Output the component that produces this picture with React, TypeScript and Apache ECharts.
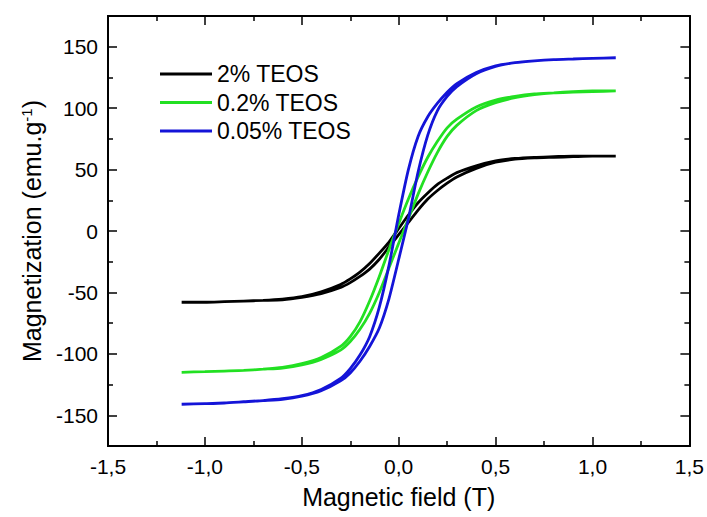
import React, { useEffect, useRef } from "react";
import * as echarts from "echarts";

// Field values (T) at which the branches were read
const fields = [-1.12, -1.0, -0.9, -0.8, -0.7, -0.6, -0.5, -0.4, -0.3, -0.25, -0.2, -0.15, -0.1, -0.05, 0, 0.05, 0.1, 0.15, 0.2, 0.25, 0.3, 0.4, 0.5, 0.6, 0.7, 0.8, 0.9, 1.0, 1.12];

// 2% TEOS
const blackUpper = [-58, -58, -57.5, -57, -56.5, -55.5, -53.5, -49.5, -43.5, -39, -33.5, -26.5, -18, -9, 2, 13, 23, 31, 38, 43, 47.5, 53, 57, 59, 60, 60.5, 61, 61, 61];
const blackLower = [-58, -58, -57.5, -57, -56.5, -56, -54, -51, -46, -42, -37, -31, -23, -13, -3, 7, 17, 26, 33, 39, 44, 51, 56, 58.5, 59.5, 60, 60.5, 61, 61];

// 0.2% TEOS
const greenUpper = [-115, -114.5, -114, -113.5, -112.5, -111, -108, -103, -94, -86, -74, -57, -37, -15, 6, 26, 44, 60, 73, 84, 91, 101, 106.5, 109.5, 111.5, 112.5, 113.5, 114, 114];
const greenLower = [-115, -114.5, -114, -113.5, -112.5, -111.5, -109, -104.5, -97, -90, -80, -67, -50, -30, -10, 10, 30, 48, 64, 77, 86, 98, 104.5, 108.5, 111, 112.5, 113, 113.5, 114];

// 0.05% TEOS
const blueUpper = [-141, -140.5, -140, -139, -138, -136.5, -134, -129, -120, -112, -101, -86, -62, -28, 13, 50, 77, 93, 104, 113, 120, 129, 134.5, 137, 138.5, 139.5, 140, 140.5, 141];
const blueLower = [-141, -140.5, -140, -139, -138, -137, -134.5, -130, -122, -115.5, -106, -94, -79, -55, -23, 10, 48, 78, 98, 109.5, 117.5, 128, 134, 137, 138.5, 139.5, 140, 140.5, 141];

const seriesNames = ["2% TEOS", "0.2% TEOS", "0.05% TEOS"];
const seriesColors = ["#000000", "#22e022", "#1414d8"];

const yMajor = [-150, -100, -50, 0, 50, 100, 150];
const yMinor = [-125, -75, -25, 25, 75, 125];

const FONT = "'Liberation Sans', Arial, sans-serif";

function loop(upper: number[], lower: number[]) {
  const desc = fields.map((x, i) => [x, upper[i]]).reverse();
  const asc = fields.map((x, i) => [x, lower[i]]);
  return desc.concat(asc);
}

export default function App() {
  const ref = useRef<HTMLDivElement>(null);

  useEffect(() => {
    if (!ref.current) return;
    const chart = echarts.init(ref.current, null, { renderer: "svg" });
    const axisLine = { show: true, onZero: false, lineStyle: { color: "#000", width: 2 } };
    const xBase = {
      type: "value" as const,
      min: -1.5,
      max: 1.5,
      interval: 0.5,
      axisLine,
      splitLine: { show: false },
      axisTick: { show: true, inside: true, length: 9, lineStyle: { color: "#000", width: 1.5 } },
      minorTick: { show: true, splitNumber: 2, length: 5, lineStyle: { color: "#000", width: 1.5 } },
    };
    const yBase = {
      type: "value" as const,
      min: -175,
      max: 175,
      axisLine,
      splitLine: { show: false },
    };
    const datas = [loop(blackUpper, blackLower), loop(greenUpper, greenLower), loop(blueUpper, blueLower)];
    chart.setOption({
      animation: false,
      backgroundColor: "#fff",
      grid: { left: 108, right: 17, top: 16, bottom: 71 },
      legend: {
        left: 160,
        top: 62,
        orient: "vertical",
        padding: 0,
        itemWidth: 52,
        itemHeight: 3,
        itemGap: 4.5,
        icon: "rect",
        data: seriesNames,
        textStyle: { fontSize: 23, fontFamily: FONT, color: "#000", lineHeight: 24 },
      },
      xAxis: [
        {
          ...xBase,
          position: "bottom",
          name: "Magnetic field (T)",
          nameLocation: "middle",
          nameGap: 38,
          nameTextStyle: { fontSize: 25, fontFamily: FONT, color: "#000" },
          axisLabel: {
            fontSize: 21,
            fontFamily: FONT,
            color: "#000",
            margin: 10,
            formatter: (v: number) => v.toFixed(1).replace(".", ","),
          },
        },
        { ...xBase, position: "top", axisLabel: { show: false } },
      ],
      yAxis: [
        {
          ...yBase,
          position: "left",
          name: "Magnetization (emu.g{sup|-1})",
          nameLocation: "middle",
          nameGap: 64,
          nameTextStyle: {
            fontSize: 25,
            fontFamily: FONT,
            color: "#000",
            rich: { sup: { fontSize: 15, fontFamily: FONT, color: "#000", verticalAlign: "top", lineHeight: 25 } },
          },
          axisTick: { show: true, inside: true, length: 9, customValues: yMajor, lineStyle: { color: "#000", width: 1.5 } },
          axisLabel: { fontSize: 21, fontFamily: FONT, color: "#000", margin: 10, customValues: yMajor },
        },
        {
          ...yBase,
          position: "right",
          axisTick: { show: true, inside: true, length: 9, customValues: yMajor, lineStyle: { color: "#000", width: 1.5 } },
          axisLabel: { show: false },
        },
        {
          ...yBase,
          position: "left",
          axisTick: { show: true, inside: true, length: 5, customValues: yMinor, lineStyle: { color: "#000", width: 1.5 } },
          axisLabel: { show: false },
        },
        {
          ...yBase,
          position: "right",
          axisTick: { show: true, inside: true, length: 5, customValues: yMinor, lineStyle: { color: "#000", width: 1.5 } },
          axisLabel: { show: false },
        },
      ],
      series: datas.map((d, i) => ({
        name: seriesNames[i],
        type: "line",
        data: d,
        xAxisIndex: 0,
        yAxisIndex: 0,
        showSymbol: false,
        smooth: 0.2,
        color: seriesColors[i],
        lineStyle: { color: seriesColors[i], width: 2.8 },
      })),
    });
    return () => chart.dispose();
  }, []);

  return <div ref={ref} style={{ position: "fixed", left: 0, top: 0, width: 707, height: 517 }} />;
}
